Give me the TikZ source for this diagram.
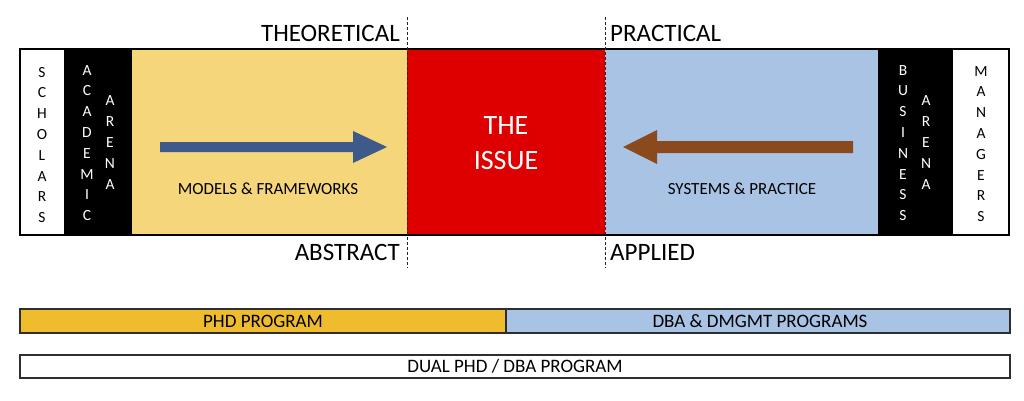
\documentclass[tikz,border=0pt]{standalone}
\usepackage{fontspec}
\setmainfont{Carlito}
\definecolor{goldA}{HTML}{F5D67A}
\definecolor{redA}{HTML}{DE0000}
\definecolor{blueA}{HTML}{A9C3E5}
\definecolor{navyA}{HTML}{3D5A8A}
\definecolor{brownA}{HTML}{8A4A1E}
\definecolor{goldB}{HTML}{EFBC2E}
\definecolor{edgeA}{HTML}{2E2E2E}
\begin{document}
\begin{tikzpicture}[x=1pt,y=-1pt,
  vtext/.style={align=center, inner sep=0pt, font=\fontsize{15.5}{20.8}\selectfont},
  toplbl/.style={inner sep=0pt, font=\fontsize{25}{30}\selectfont},
  midlbl/.style={inner sep=0pt, font=\fontsize{17}{20}\selectfont, text=black},
  barlbl/.style={inner sep=0pt, font=\fontsize{19}{22}\selectfont, text=black},
  dashline/.style={draw=black!85, line width=1pt, dash pattern=on 3pt off 2pt},
  barbox/.style={draw=edgeA, line width=1.6pt}]
\useasboundingbox (0,0) rectangle (1024,401);
% regions
\fill[white]  (20,49) rectangle (64,235);
\fill[black]  (64,49) rectangle (132,235);
\fill[goldA]  (132,49) rectangle (407,235);
\fill[redA]   (407,49) rectangle (605,235);
\fill[blueA]  (605,49) rectangle (878,235);
\fill[black]  (878,49) rectangle (953,235);
\fill[white]  (953,49) rectangle (1009,235);
\draw[line width=2.5pt] (20,49) rectangle (1009,235);
% dashed dividers
\coordinate (d1t) at (407,17);
\coordinate (d1b) at (407,268);
\coordinate (d2t) at (605,17);
\coordinate (d2b) at (605,268);
\draw[dashline] (d1t) -- (d1b);
\draw[dashline] (d2t) -- (d2b);
% vertical texts
\node[vtext] (scholars) at (42,145) {S\\C\\H\\O\\L\\A\\R\\S};
\node[vtext, text=white] (academic) at (87,143) {A\\C\\A\\D\\E\\M\\I\\C};
\node[vtext, text=white] (arenaL) at (110,142.5) {A\\R\\E\\N\\A};
\node[vtext, text=white] (business) at (903,143) {B\\U\\S\\I\\N\\E\\S\\S};
\node[vtext, text=white] (arenaR) at (926,142.5) {A\\R\\E\\N\\A};
\node[vtext] (managers) at (981,144) {M\\A\\N\\A\\G\\E\\R\\S};
% top/bottom labels
\node[toplbl, anchor=base east] (theo) at (400,42) {THEORETICAL};
\node[toplbl, anchor=base west] (prac) at (610,42) {PRACTICAL};
\node[toplbl, anchor=base east] (abst) at (400,260) {ABSTRACT};
\node[toplbl, anchor=base west] (appl) at (610,260) {APPLIED};
% the issue
\node[align=center, inner sep=0pt, text=white, font=\fontsize{28}{35}\selectfont] (issue) at (506,143) {THE\\ISSUE};
% arrows
\fill[navyA] (160,142) -- (353,142) -- (353,131) -- (387,147) -- (353,163) -- (353,152) -- (160,152) -- cycle;
\fill[brownA] (853,141) -- (657,141) -- (657,130) -- (623,147) -- (657,164) -- (657,153) -- (853,153) -- cycle;
\node[midlbl] (models) at (268,189) {MODELS \& FRAMEWORKS};
\node[midlbl] (systems) at (742,189) {SYSTEMS \& PRACTICE};
% bottom bars
\draw[barbox, fill=goldB] (20,309) rectangle (506,333);
\draw[barbox, fill=blueA] (506,309) rectangle (1010,333);
\draw[barbox, fill=white] (20,355) rectangle (1010,378);
\node[barlbl] (phd) at (263,321) {PHD PROGRAM};
\node[barlbl] (dba) at (760,321) {DBA \& DMGMT PROGRAMS};
\node[barlbl] (dual) at (515,366.5) {DUAL PHD / DBA PROGRAM};
\end{tikzpicture}
\end{document}
